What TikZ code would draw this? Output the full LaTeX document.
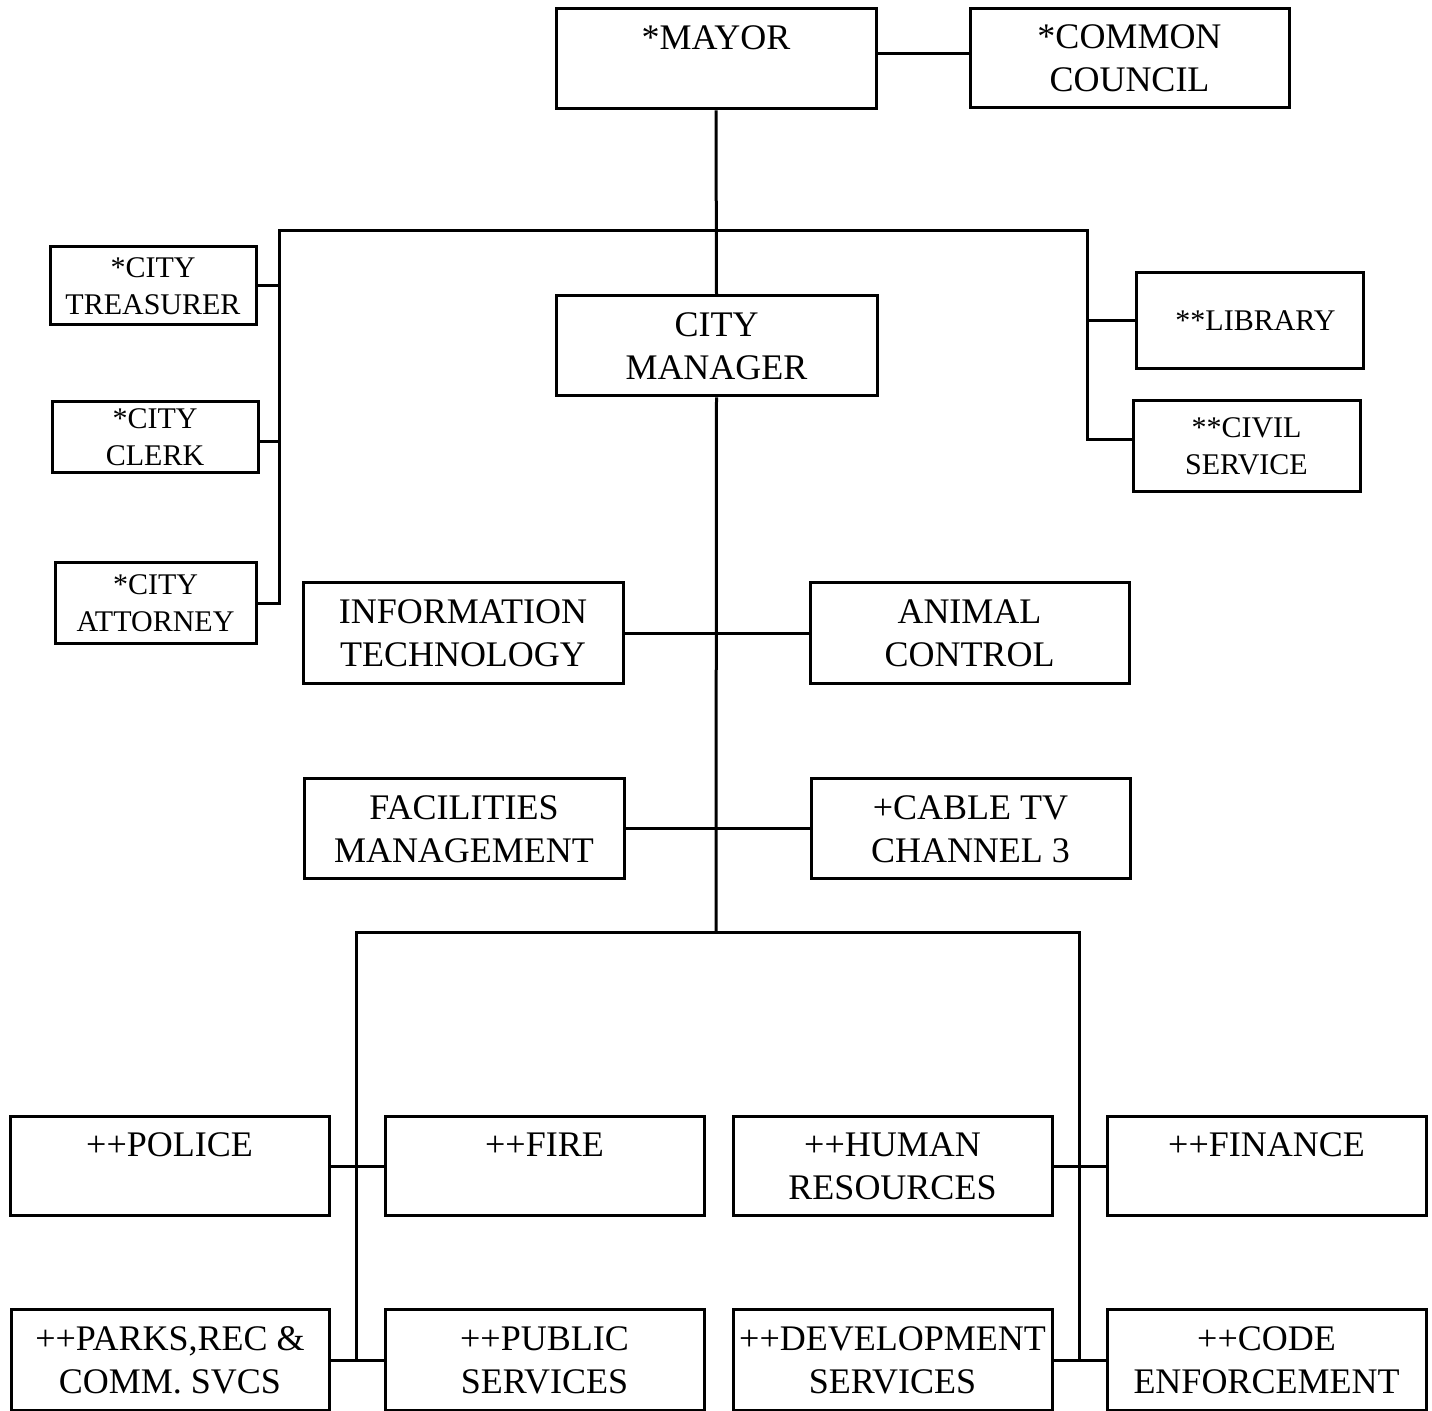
\documentclass[tikz,border=0pt]{standalone}
\usepackage{fontspec}
\setmainfont{Liberation Serif}
\usetikzlibrary{calc}
\begin{document}
\begin{tikzpicture}[x=0.5pt,y=-0.5pt,line width=1.5pt,
  box/.style={draw,rectangle,inner sep=0pt,align=center,font=\fontsize{18}{21.5}\selectfont},
  sbox/.style={box,font=\fontsize{15}{18.3}\selectfont},
  big/.style={minimum width=160pt,minimum height=50pt}]
\useasboundingbox[fill=white] (0,0) rectangle (1432,1411);
% top
\node[box,big] (mayor) at (716,59) {*MAYOR\\~};
\node[box,big,minimum width=159.5pt,minimum height=49.5pt] (council) at (1129.5,58.5) {*COMMON\\COUNCIL};
\node[sbox,minimum width=103pt,minimum height=39pt] (treas) at (153,286) {*CITY\\TREASURER};
\node[sbox,minimum width=103pt,minimum height=35.5pt] (clerk) at (155,437.5) {*CITY\\CLERK};
\node[sbox,minimum width=100.5pt,minimum height=40.5pt] (attorney) at (155.5,603.5) {*CITY\\ATTORNEY};
\node[sbox,minimum width=113.5pt,minimum height=48pt] (library) at (1249.5,321) {\hspace*{6pt}**LIBRARY};
\node[sbox,minimum width=113.5pt,minimum height=45.5pt] (civil) at (1246.5,446.5) {**CIVIL\\SERVICE};
\node[box,big,minimum width=160.5pt] (cm) at (716.5,346) {CITY\\MANAGER};
% middle
\node[box,big,minimum height=50.5pt] (it) at (463,633.5) {INFORMATION\\TECHNOLOGY};
\node[box,big,minimum width=159.5pt,minimum height=50.5pt] (animal) at (969.5,633.5) {ANIMAL\\CONTROL};
\node[box,big] (fac) at (464,829) {FACILITIES\\MANAGEMENT};
\node[box,big,minimum width=159.5pt] (cable) at (970.5,829) {+CABLE TV\\CHANNEL 3};
% bottom
\node[box,big,minimum width=159.5pt,minimum height=49.5pt] (police) at (169.5,1166.5) {++POLICE\\~};
\node[box,big,minimum width=159.5pt,minimum height=49.5pt] (fire) at (544.5,1166.5) {++FIRE\\~};
\node[box,big,minimum width=159.5pt,minimum height=49.5pt] (hr) at (892.5,1166.5) {++HUMAN\\RESOURCES};
\node[box,big,minimum width=159.5pt,minimum height=49.5pt] (finance) at (1266.5,1166.5) {++FINANCE\\~};
\node[box,big,minimum width=159pt] (parks) at (170,1360) {++PARKS,REC \&\\COMM. SVCS};
\node[box,big,minimum width=159.5pt] (pubserv) at (544.5,1360) {++PUBLIC\\SERVICES};
\node[box,big,minimum width=159.5pt] (dev) at (892.5,1360) {++DEVELOPMENT\\SERVICES};
\node[box,big,minimum width=159.5pt] (code) at (1266.5,1360) {++CODE\\ENFORCEMENT};
% coordinates
\coordinate (busL) at (279,231);
\coordinate (busR) at (1087,231);
\coordinate (bbL) at (356,933);
\coordinate (bbR) at (1079,933);
\coordinate (bbM) at (716,933);
% connectors
\draw ([yshift=2.5pt]mayor.east) -- ([yshift=2.5pt]mayor.east -| council.west);
\draw (mayor.south) -- (cm.north);
\draw (attorney.east) -| (busL) -- (busR) |- ([yshift=3.5pt]civil.west);
\draw (treas.east) -- (treas.east -| busL);
\draw ([yshift=-2pt]clerk.east) -- ([yshift=-2pt]clerk.east -| busL);
\draw (library.west) -- (library.west -| busR);
\draw (cm.south) -- (bbM);
\draw (it.east) -- (animal.west);
\draw (fac.east) -- (cable.west);
\draw (bbL |- parks.east) -- (bbL) -- (bbR) -- (bbR |- dev.east);
\draw (police.east) -- (fire.west);
\draw (parks.east) -- (pubserv.west);
\draw (hr.east) -- (finance.west);
\draw (dev.east) -- (code.west);
\end{tikzpicture}
\end{document}
